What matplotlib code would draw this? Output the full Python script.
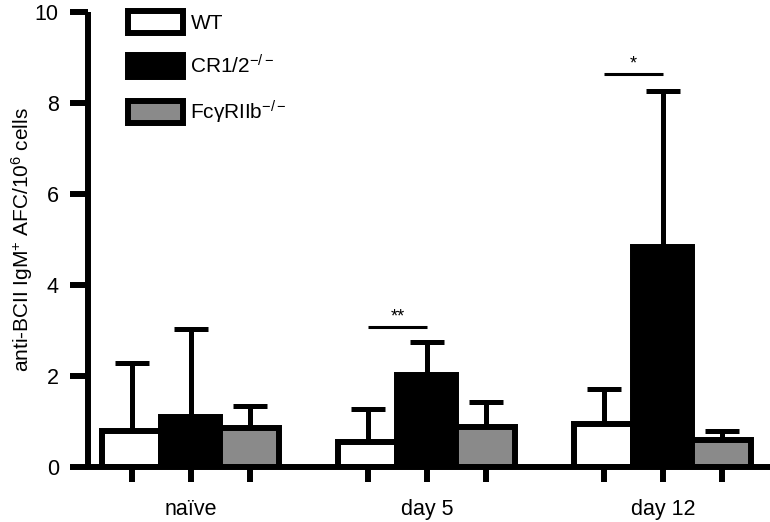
import matplotlib
matplotlib.use("Agg")
import matplotlib.pyplot as plt
import numpy as np

plt.rcParams['font.family'] = ['Liberation Sans', 'DejaVu Sans']
plt.rcParams['mathtext.fontset'] = 'custom'
plt.rcParams['mathtext.rm'] = 'Liberation Sans'
plt.rcParams['mathtext.it'] = 'Liberation Sans:italic'
plt.rcParams['mathtext.bf'] = 'Liberation Sans:bold'

groups = ["naïve", "day 5", "day 12"]
series = ["WT", "CR1/2$^{-/-}$", "FcγRIIb$^{-/-}$"]
means = {
    "WT": [0.80, 0.55, 0.95],
    "CR": [1.10, 2.02, 4.84],
    "Fc": [0.85, 0.88, 0.59],
}
upper = {
    "WT": [2.29, 1.28, 1.71],
    "CR": [3.03, 2.74, 8.27],
    "Fc": [1.35, 1.43, 0.80],
}
sig_pairs = [(1, "**", 3.08), (2, "*", 8.64)]  # group index, label, height
yticks = [0, 2, 4, 6, 8, 10]

colors = {"WT": "white", "CR": "black", "Fc": "#8a8a8a"}
keys = ["WT", "CR", "Fc"]

fig = plt.figure(figsize=(7.7, 5.22), dpi=100)
ax = fig.add_axes([88/770, 55/522, 680/770, 455/522])

w = 0.25
x = np.arange(len(groups))
lw = 4.3
handles = []
for i, k in enumerate(keys):
    pos = x + (i - 1) * w
    m = np.array(means[k])
    err = np.array(upper[k]) - m
    b = ax.bar(pos, m, width=w, color=colors[k], edgecolor="black",
               linewidth=lw, zorder=2 + i * 0.01)
    ax.errorbar(pos, m, yerr=[np.zeros_like(err), err], fmt="none",
                ecolor="black", elinewidth=3.6, capsize=12, capthick=3.6,
                zorder=1)
    handles.append(b)

for gi, lab, h in sig_pairs:
    x0 = x[gi] - w
    x1 = x[gi]
    ax.plot([x0, x1], [h, h], color="black", lw=2.2, solid_capstyle="butt")
    ax.text((x0 + x1) / 2, h + 0.02, lab, ha="center", va="bottom", fontsize=13)

ax.set_ylim(0, 10)
ax.set_xlim(-0.436, 2.445)
ax.set_yticks(yticks)
ax.set_yticklabels([str(t) for t in yticks], fontsize=15.5)

ax.set_xticks(x)
ax.set_xticklabels(groups, fontsize=15.5)
ax.set_xticks(np.sort(np.concatenate([x - w, x + w])), minor=True)
ax.tick_params(axis="x", which="both", length=11, width=lw, direction="out", pad=12)
ax.tick_params(axis="y", length=13, width=lw, direction="out", pad=8)

for s in ["top", "right"]:
    ax.spines[s].set_visible(False)
for s in ["left", "bottom"]:
    ax.spines[s].set_linewidth(lw)
ax.spines["left"].set_capstyle("butt")

ax.set_ylabel("anti-BCII IgM$^{+}$ AFC/10$^{6}$ cells", fontsize=15, labelpad=0)

leg = ax.legend(handles, series, loc="upper left",
                bbox_to_anchor=(128/770, 1 - 11/522), bbox_transform=fig.transFigure,
                frameon=False, fontsize=15, handlelength=2.65, handleheight=1.25,
                labelspacing=1.02, handletextpad=0.35, borderpad=0, borderaxespad=0)

fig.savefig("out.png", dpi=100)
